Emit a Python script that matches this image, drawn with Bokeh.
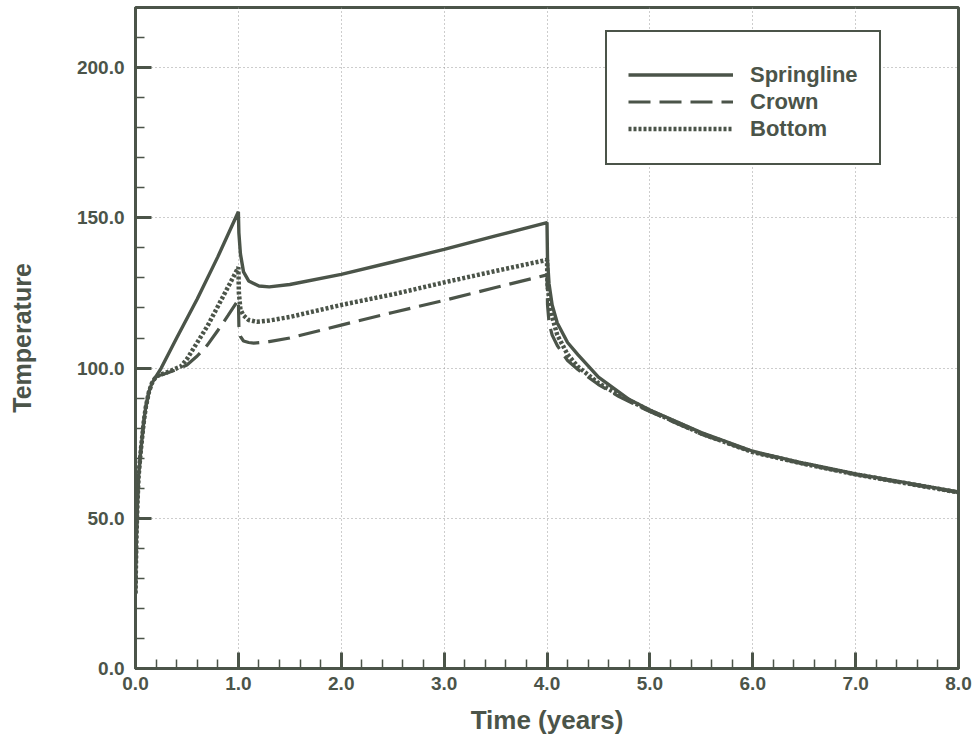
from bokeh.plotting import figure
from bokeh.models import Range1d, FixedTicker, PrintfTickFormatter, Legend, LegendItem
from bokeh.embed import file_html
from bokeh.resources import INLINE

# ---- data ----
t_early = [0.0, 0.005, 0.01, 0.02, 0.03, 0.05, 0.08, 0.1, 0.13, 0.16, 0.2]
T_early = [25, 36, 45, 56, 64, 72, 82, 87, 92, 95, 97.2]

t_spring = [0.25, 0.4, 0.6, 0.8, 1.0, 1.005, 1.02, 1.05, 1.1, 1.2, 1.3, 1.5, 2.0, 2.5, 3.0,
            3.5, 4.0, 4.005, 4.02, 4.05, 4.1, 4.2, 4.3, 4.5, 4.8, 5.0, 5.5, 6.0, 6.5, 7.0, 7.5, 8.0]
T_spring = [100, 110, 123, 137, 152, 145, 138, 132, 129, 127.3, 127, 127.8, 131.2, 135.3, 139.5,
            144, 148.4, 136, 128, 121, 115, 108.5, 104.5, 97, 89.5, 86, 78.5, 72.3, 68.3, 64.8, 61.8, 58.8]

t_crown = [0.3, 0.4, 0.5, 0.6, 0.7, 0.8, 0.9, 1.0, 1.005, 1.02, 1.05, 1.1, 1.15, 1.3, 1.5, 2.0,
           2.5, 3.0, 3.5, 4.0, 4.005, 4.02, 4.05, 4.1, 4.2, 4.3, 4.5, 4.7, 5.0, 5.5, 6.0, 6.5, 7.0, 7.5, 8.0]
T_crown = [98.3, 99.5, 101, 104, 107.7, 112.5, 117.5, 122.7, 114, 110.5, 109, 108.5, 108.3, 108.8, 110, 114.3,
           118.5, 122.5, 126.8, 131, 121, 115, 111, 107.5, 102.5, 99.5, 94.5, 90.5, 85.5, 78, 72, 68, 64.5, 61.5, 58.5]

t_bottom = [0.3, 0.44, 0.5, 0.6, 0.7, 0.8, 0.9, 1.0, 1.005, 1.02, 1.05, 1.1, 1.18, 1.3, 1.5, 2.0,
            2.5, 3.0, 3.5, 4.0, 4.005, 4.02, 4.05, 4.1, 4.2, 4.3, 4.5, 4.7, 5.0, 5.5, 6.0, 6.5, 7.0, 7.5, 8.0]
T_bottom = [98.5, 100.5, 103, 108.5, 114, 120.5, 127, 133.5, 125, 119.5, 117.5, 116, 115.4, 115.8, 117, 121,
            124.5, 128.5, 132.3, 136, 128, 123, 117, 111, 104.5, 100.5, 95, 91, 85.8, 78.2, 72, 68.1, 64.6, 61.6, 58.6]

series_names = ["Springline", "Crown", "Bottom"]
x_major = [0, 1, 2, 3, 4, 5, 6, 7, 8]
y_major = [0, 50, 100, 150, 200]

INK = "#4b5449"
FONT = "Liberation Sans"

p = figure(width=975, height=742, output_backend="svg", toolbar_location=None,
           x_range=Range1d(0, 8), y_range=Range1d(0, 220),
           min_border_left=135, min_border_right=17, min_border_top=7, min_border_bottom=74)
p.background_fill_color = "white"
p.border_fill_color = "white"
p.outline_line_color = INK
p.outline_line_width = 3
p.outline_line_alpha = 1

x_minor = [i * 0.2 for i in range(41)]
y_minor = [i * 10 for i in range(22)]
p.xaxis.ticker = FixedTicker(ticks=x_major, minor_ticks=x_minor)
p.yaxis.ticker = FixedTicker(ticks=y_major, minor_ticks=y_minor)
p.xaxis.formatter = PrintfTickFormatter(format="%.1f")
p.yaxis.formatter = PrintfTickFormatter(format="%.1f")

for ax in (p.xaxis, p.yaxis):
    ax.axis_line_color = INK
    ax.axis_line_width = 3
    ax.major_tick_line_color = INK
    ax.major_tick_line_width = 3
    ax.major_tick_in = 16
    ax.major_tick_out = 0
    ax.minor_tick_line_color = INK
    ax.minor_tick_line_width = 1.5
    ax.minor_tick_in = 9
    ax.minor_tick_out = 0
    ax.major_label_text_font = FONT
    ax.major_label_text_font_style = "bold"
    ax.major_label_text_font_size = "19px"
    ax.major_label_text_color = INK
    ax.axis_label_text_font = FONT
    ax.axis_label_text_font_style = "bold"
    ax.axis_label_text_color = INK

p.xaxis.axis_label = "Time (years)"
p.yaxis.axis_label = "Temperature"
p.xaxis.axis_label_text_font_size = "26px"
p.yaxis.axis_label_text_font_size = "25px"
p.xaxis.major_label_standoff = 8
p.yaxis.major_label_standoff = 11
p.xaxis.axis_label_standoff = 12
p.yaxis.axis_label_standoff = 38

for g in (p.xgrid, p.ygrid):
    g.grid_line_color = "#9a9a9a"
    g.grid_line_dash = "1 3"
    g.grid_line_width = 1
p.xgrid.ticker = FixedTicker(ticks=x_major[1:-1])
p.ygrid.ticker = FixedTicker(ticks=y_major[1:])

r_c = p.line(t_early + t_crown, T_early + T_crown, line_color=INK, line_width=3.2, line_dash="22 9")
r_b = p.line(t_early + t_bottom, T_early + T_bottom, line_color=INK, line_width=4.5, line_dash="3 2")
r_s = p.line(t_early + t_spring, T_early + T_spring, line_color=INK, line_width=3.4)

legend = Legend(items=[LegendItem(label=series_names[0], renderers=[r_s]),
                       LegendItem(label=series_names[1], renderers=[r_c]),
                       LegendItem(label=series_names[2], renderers=[r_b])],
                title=" ", title_text_font_size="2px", title_standoff=6,
                location=(470, 503), margin=0, padding=21, spacing=0,
                glyph_width=105, glyph_height=27, label_height=27, label_standoff=17,
                label_text_font=FONT, label_text_font_style="bold",
                label_text_font_size="22px", label_text_color=INK,
                border_line_color=INK, border_line_width=2, border_line_alpha=1,
                background_fill_color="white", background_fill_alpha=1)
p.add_layout(legend)

open("out.html", "w").write(file_html(p, INLINE))
